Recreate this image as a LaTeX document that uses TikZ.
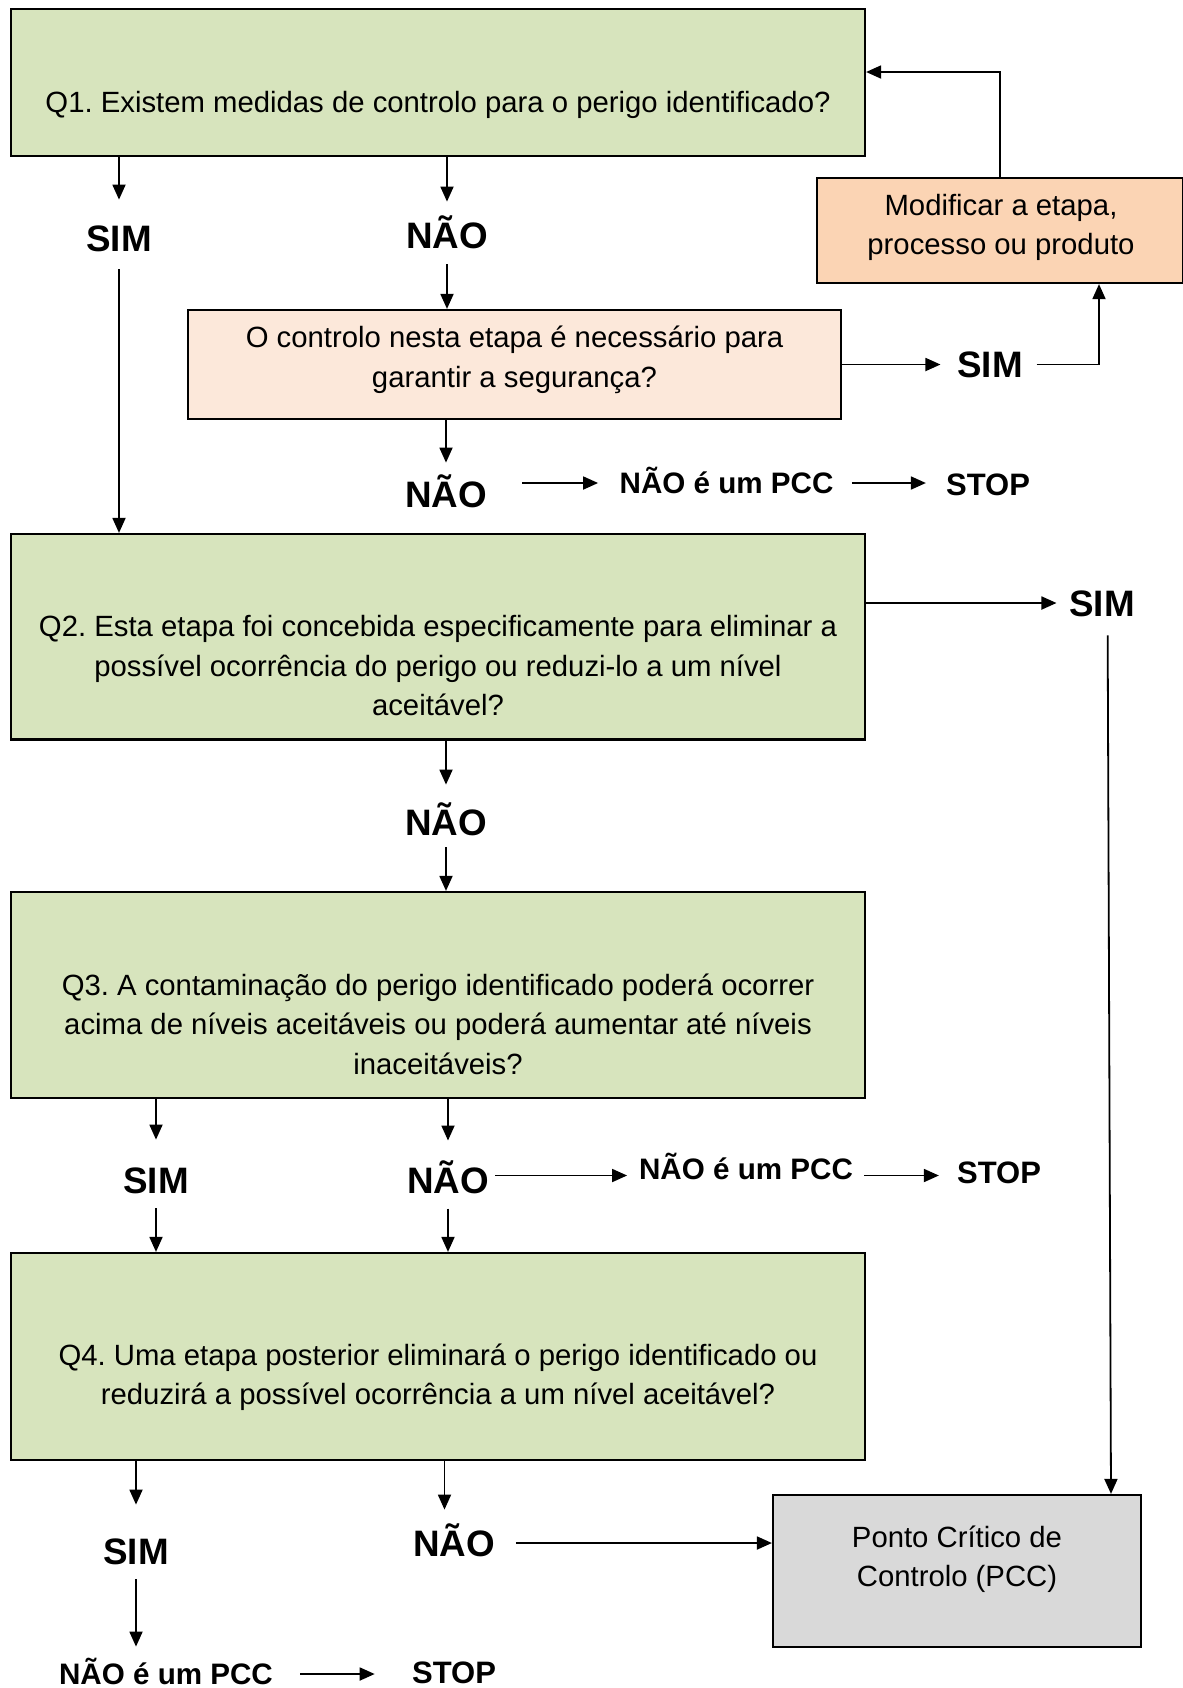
\documentclass[tikz,border=0pt]{standalone}
\usepackage{fontspec}
\setmainfont{Liberation Sans}
\frenchspacing
\usetikzlibrary{arrows.meta,calc}
\definecolor{qgreen}{HTML}{D7E4BD}
\definecolor{peachlight}{HTML}{FCE8DA}
\definecolor{peach}{HTML}{FBD4B4}
\definecolor{pccgray}{HTML}{D9D9D9}
\tikzset{
  box/.style={draw=black, line width=1.1pt, inner sep=0pt},
  btext/.style={inner sep=0pt, align=center, font=\fontsize{14.65}{19.75}\selectfont},
  biglab/.style={inner sep=0pt, text height=13.2pt, text depth=0pt, font=\bfseries\fontsize{18.4}{20}\selectfont},
  smalllab/.style={inner sep=0pt, text height=10.6pt, text depth=0pt, font=\bfseries\fontsize{14.8}{17}\selectfont},
  stoplab/.style={inner sep=0pt, text height=11.1pt, text depth=0pt, font=\bfseries\fontsize{15.5}{17}\selectfont},
  arr/.style={draw=black, line width=0.9pt, -{Triangle[length=7.5pt,width=6.5pt]}},
}
\begin{document}
\begin{tikzpicture}[x=0.5pt,y=-0.5pt]
\useasboundingbox[fill=white] (0,0) rectangle (1183,1688);

% boxes
\node[box, fill=qgreen, minimum width=427pt, minimum height=73.7pt] (q1) at (438,82.3) {};
\node[box, fill=peach, minimum width=183pt, minimum height=52.5pt] (mod) at (1000,230.5) {};
\node[box, fill=peachlight, minimum width=326.5pt, minimum height=54.5pt] (ctl) at (514.5,364.5) {};
\node[box, fill=qgreen, minimum width=427pt, minimum height=102.75pt] (q2) at (438,636.75) {};
\node[box, fill=qgreen, minimum width=427pt, minimum height=103pt] (q3) at (438,995) {};
\node[box, fill=qgreen, minimum width=427pt, minimum height=103.5pt] (q4) at (438,1356.5) {};
\node[box, fill=pccgray, minimum width=184pt, minimum height=76pt] (pcc) at (957,1571) {};

% box texts
\node[btext] (t1) at (438,105) {Q1. Existem medidas de controlo para o perigo identificado?};
\node[btext] (tmod) at (1001,227.5) {Modificar a etapa,\\processo ou produto};
\node[btext] (tctl) at (514.5,360) {O controlo nesta etapa é necessário para\\garantir a segurança?};
\node[btext] (t2) at (438,666) {Q2. Esta etapa foi concebida especificamente para eliminar a\\possível ocorrência do perigo ou reduzi-lo a um nível\\aceitável?};
\node[btext] (t3) at (438,1024) {Q3. A contaminação do perigo identificado poderá ocorrer\\acima de níveis aceitáveis ou poderá aumentar até níveis\\inaceitáveis?};
\node[btext] (t4) at (438,1377) {Q4. Uma etapa posterior eliminará o perigo identificado ou\\reduzirá a possível ocorrência a um nível aceitável?};
\node[btext] (tpcc) at (957,1559) {Ponto Crítico de\\Controlo (PCC)};

% labels
\node[biglab] (sim1) at (119,238.4) {SIM};
\node[biglab] (nao1) at (447,235) {NÃO};
\node[biglab] (sim2) at (990,364.5) {SIM};
\node[biglab] (nao2) at (446,494) {NÃO};
\node[smalllab] (npcc1) at (726.6,483) {NÃO é um PCC};
\node[stoplab] (stop1) at (988,484) {STOP};
\node[biglab] (sim3) at (1102,603) {SIM};
\node[biglab] (nao3) at (446,822) {NÃO};
\node[biglab] (sim4) at (156,1180) {SIM};
\node[biglab] (nao4) at (448,1180.5) {NÃO};
\node[smalllab] (npcc2) at (746,1168.5) {NÃO é um PCC};
\node[stoplab] (stop2) at (999,1172) {STOP};
\node[biglab] (sim5) at (136,1551) {SIM};
\node[biglab] (nao5) at (454,1543) {NÃO};
\node[smalllab] (npcc3) at (166,1674) {NÃO é um PCC};
\node[stoplab] (stop3) at (454,1672) {STOP};

\coordinate (fb) at (1000,72);

% connectors
\draw[arr, shorten >=12.6pt] (q1.south -| sim1) -- (sim1.north);
\draw[arr, shorten >=9.9pt] (q1.south -| nao1) -- (nao1.north);
\draw[arr, shorten <=7.9pt] (nao1.south) -- (ctl.north -| nao1);
\draw[arr] (mod.north) -- (fb) -- (q1.east |- fb);
\draw[arr, shorten >=8.2pt] (ctl.east |- sim2) -- (sim2.west);
\draw[arr, shorten <=6.75pt] (sim2.east) -| ([xshift=49.5pt]mod.south);
\draw[arr, shorten >=8.9pt] (ctl.south -| nao2) -- (nao2.north);
\draw[arr, shorten <=17.5pt, shorten >=10.6pt] (nao2.east |- npcc1) -- (npcc1.west);
\draw[arr, shorten <=9pt, shorten >=9.9pt] (npcc1.east) -- (stop1.west |- npcc1);
\draw[arr, shorten <=8.7pt] (sim1.south) -- (q2.north -| sim1);
\draw[arr, shorten >=6.2pt] (q2.east |- sim3) -- (sim3.west);
\draw[arr, shorten <=9.4pt] ([xshift=2.8pt]sim3.south) -- ([xshift=77pt]pcc.north);
\draw[arr, shorten >=11.9pt] (q2.south -| nao3) -- (nao3.north);
\draw[arr, shorten <=5.9pt] (nao3.south) -- (q3.north -| nao3);
\draw[arr, shorten >=13.4pt] (q3.south -| sim4) -- (sim4.north);
\draw[arr, shorten <=7.4pt] (sim4.south) -- (q4.north -| sim4);
\draw[arr, shorten >=13.2pt] (q3.south -| nao4) -- (nao4.north);
\draw[arr, shorten <=7.2pt] (nao4.south) -- (q4.north -| nao4);
\draw[arr, shorten <=3pt, shorten >=5.8pt] ([yshift=2.5pt]nao4.east) -- ([yshift=2.5pt]nao4.east -| npcc2.west);
\draw[arr, shorten <=5.5pt, shorten >=8.9pt] ([yshift=-3.5pt]npcc2.east) -- ([yshift=-3.5pt]npcc2.east -| stop2.west);
\draw[arr, shorten >=16.4pt] (q4.south -| sim5) -- (sim5.north);
\draw[arr, shorten >=9.9pt] ([xshift=-4.75pt]nao5.north |- q4.south) -- ([xshift=-4.75pt]nao5.north);
\draw[arr, shorten <=7.4pt, shorten >=8.2pt] (sim5.south) -- (sim5.south |- npcc3.north);
\draw[arr, shorten <=13.5pt, shorten >=18.5pt] (npcc3.east) -- (npcc3.east -| stop3.west);
\draw[arr, shorten <=10.3pt] (nao5.east) -- (pcc.west |- nao5);
\end{tikzpicture}
\end{document}
